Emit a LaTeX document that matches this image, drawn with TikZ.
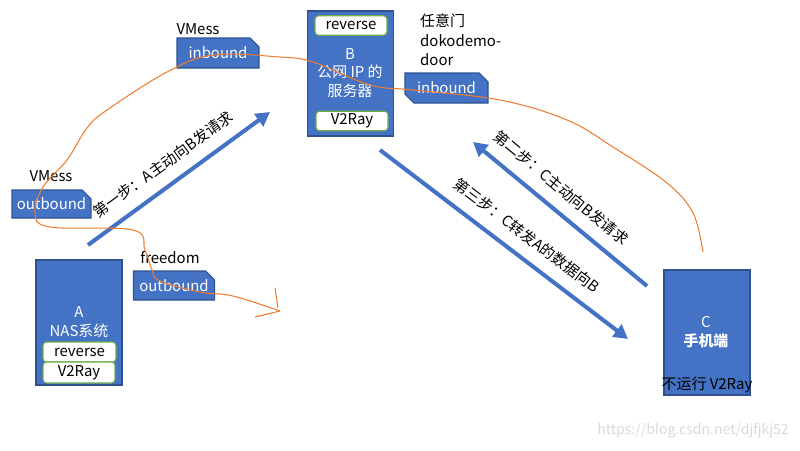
\documentclass[tikz,border=0pt]{standalone}
\usepackage{fontspec}
\setmainfont{Noto Sans CJK SC}
\usepackage{tikz}
\usetikzlibrary{arrows.meta,shapes.misc,positioning}
\definecolor{boxblue}{HTML}{4472C4}
\definecolor{edgeblue}{HTML}{2F528F}
\definecolor{taggreen}{HTML}{70AD47}
\definecolor{penorange}{HTML}{ED7D31}
\tikzset{
    hostbox/.style={rectangle,draw=edgeblue,fill=boxblue,line width=0.6pt,minimum width=1.72cm,minimum height=2.5cm,inner sep=0pt},
    tagbox/.style={rectangle,rounded corners=2pt,draw=taggreen,fill=white,line width=0.6pt,minimum width=1.44cm,minimum height=0.39cm,inner sep=0pt},
    boundbox/.style={chamfered rectangle,chamfered rectangle corners=north east,chamfered rectangle xsep=2.5pt,chamfered rectangle ysep=2.5pt,draw=edgeblue,fill=boxblue,text=white,line width=0.6pt,minimum width=1.62cm,minimum height=0.58cm,inner sep=0pt},
    hosttext/.style={text=white,align=center},
    steparrow/.style={draw=boxblue,line width=2.3pt,-{Triangle[length=8pt,width=8.5pt]}},
    steptext/.style={sloped,above=3.5pt}
}
\begin{document}
\begin{tikzpicture}[x=0.02cm,y=0.02cm,font=\fontsize{8.5}{10.5}\selectfont]
\useasboundingbox (0,0) rectangle (800,-450);

\node[hostbox] (B) at (350.5,-73.5) {};
\node[tagbox] (Brev) at (351,-25.5) {reverse};
\node[tagbox] (Bray) at (352,-121) {V2Ray};
\node[hosttext] (Btext) at (350,-73) {B\\公网 IP 的\\服务器};
\node[align=left,anchor=west,font=\fontsize{8.5}{11}\selectfont] (door) at (414,-40) {任意门\\dokodemo-\\door};
\node[boundbox,minimum width=1.66cm,minimum height=0.6cm,chamfered rectangle corners={north east,south west}] (Bin) at (446.5,-88) {inbound};

\node (vmessin) at (198,-29) {VMess};
\node[boundbox,minimum width=1.64cm,minimum height=0.6cm] (vin) at (218,-53) {inbound};
\node (vmessout) at (51,-176) {VMess};
\node[boundbox,minimum width=1.58cm,minimum height=0.56cm] (vout) at (51.5,-204) {outbound};
\node (free) at (170,-258) {freedom};
\node[boundbox] (fout) at (174,-285.5) {outbound};

\node[hostbox] (A) at (79,-322.5) {};
\node[hosttext] (Atext) at (79,-322) {A\\NAS系统};
\node[tagbox,minimum width=1.46cm,minimum height=0.4cm] (Arev) at (79.5,-352) {reverse};
\node[tagbox,minimum height=0.42cm] (Aray) at (79,-372.5) {V2Ray};

\node[hostbox] (C) at (707,-332.5) {};
\node[hosttext] (Ctext) at (706,-332) {C\\\bfseries 手机端};
\node (Cnote) at (707,-385) {不运行 V2Ray};

\coordinate (s1a) at (88,-245);
\coordinate (s1b) at (270,-112);
\coordinate (s2a) at (647,-286);
\coordinate (s2b) at (473,-142);
\coordinate (s3a) at (380,-150);
\coordinate (s3b) at (628,-339);
\draw[steparrow] (s1a) -- node[steptext,pos=0.48] {第一步：A主动向B发请求} (s1b);
\draw[steparrow] (s2a) -- node[steptext,pos=0.57] {第二步：C主动向B发请求} (s2b);
\draw[steparrow] (s3a) -- node[steptext,pos=0.54] {第三步：C转发A的数据向B} (s3b);

\coordinate (penend) at (280,-311);
\draw[penorange,line width=0.6pt] plot[smooth,tension=0.6] coordinates {(703,-252) (693,-213) (667,-183) (613,-147) (567,-120) (500,-100) (413,-90) (370,-85) (313,-62) (280,-57) (213,-55) (167,-72) (107,-110) (87,-128) (67,-160) (43,-187) (35,-213) (50,-227) (133,-230) (145,-250) (152,-270) (160,-281) (200,-292) (233,-296) (280,-311)};
\draw[penorange,line width=0.6pt] (275,-288) -- (278,-308) (255,-317) -- (penend);

\node[text=gray!30,font=\fontsize{8}{9}\selectfont] (mark) at (693,-431) {https://blog.csdn.net/djfjkj52};
\end{tikzpicture}
\end{document}
